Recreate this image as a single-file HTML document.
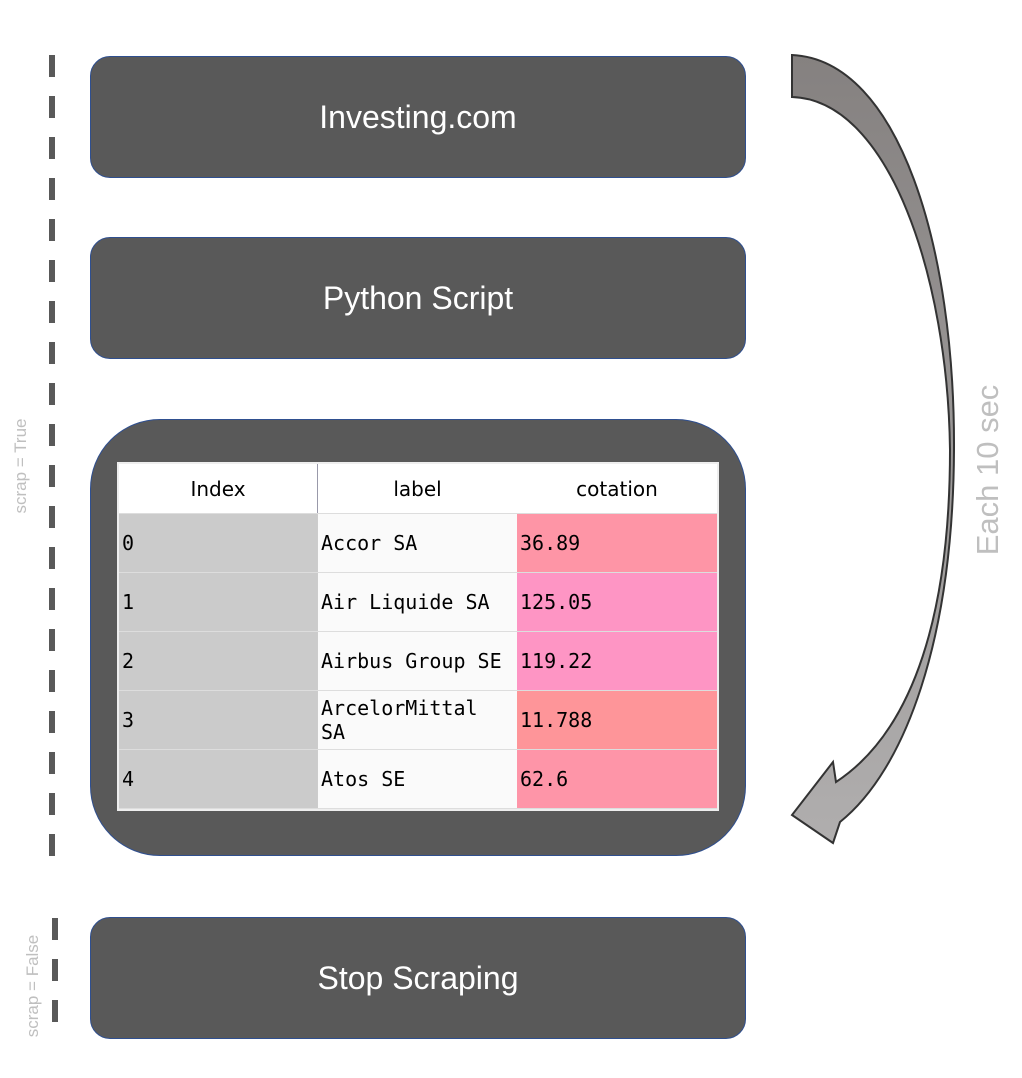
<!DOCTYPE html>
<html><head><style>
body{margin:0;width:1022px;height:1078px;background:#fff;position:relative;overflow:hidden;font-family:"Liberation Sans","DejaVu Sans",sans-serif}
.box{position:absolute;left:90px;width:654px;background:#595959;border:1px solid #2f4f8f;border-radius:20px;color:#fff;font-size:32px;display:flex;align-items:center;justify-content:center}
table{position:absolute;left:119px;top:464px;border-collapse:collapse;width:598px}
td,th{height:58px;padding:0 3px;border-bottom:1px solid #ddd;font-family:"DejaVu Sans Mono",monospace;font-size:20px;color:#000;text-align:left;line-height:24px}
th{height:49px;font-family:"DejaVu Sans",sans-serif;font-weight:normal;text-align:center;background:#fff;font-size:20px}
td.i{background:#cbcbcb;width:192px}
td.l{background:#fafafa;width:193px;border-left:1px solid #ccc}
</style></head><body>
<div class="box" style="top:56px;height:120px">Investing.com</div>
<div class="box" style="top:237px;height:120px">Python Script</div>
<div class="box" style="top:419px;height:435px;border-radius:70px"></div>
<div style="position:absolute;left:117px;top:462px;width:602px;height:349px;background:#eee"></div>
<table>
<tr><th style="border-right:1px solid #99a">Index</th><th>label</th><th>cotation</th></tr>
<tr><td class="i">0</td><td class="l">Accor SA</td><td style="background:#fe95a6">36.89</td></tr>
<tr><td class="i">1</td><td class="l">Air Liquide SA</td><td style="background:#fe95c4">125.05</td></tr>
<tr><td class="i">2</td><td class="l">Airbus Group SE</td><td style="background:#fe95c4">119.22</td></tr>
<tr><td class="i">3</td><td class="l">ArcelorMittal<br>SA</td><td style="background:#fe9599">11.788</td></tr>
<tr><td class="i">4</td><td class="l">Atos SE</td><td style="background:#fe95a8">62.6</td></tr>
</table>
<div class="box" style="top:917px;height:120px">Stop Scraping</div>
<svg width="1022" height="1078" style="position:absolute;left:0;top:0">
<defs><linearGradient id="g" x1="0" y1="0" x2="0" y2="1"><stop offset="0" stop-color="#858180"/><stop offset="1" stop-color="#b0aeae"/></linearGradient></defs>
<line x1="52" y1="55" x2="52" y2="858" stroke="#595959" stroke-width="6" stroke-dasharray="22,19"/>
<line x1="55" y1="918" x2="55" y2="1040" stroke="#595959" stroke-width="6" stroke-dasharray="22,19"/>
<path d="M792,55 C900,60 955,250 954,450 C953,640 905,770 840,822 L833,843 L792,815 L833,762 L836,782 C915,730 950,610 950,450 C948,280 890,100 792,97 Z" fill="url(#g)" stroke="#333" stroke-width="2" stroke-linejoin="miter"/>
<text transform="translate(998,470) rotate(-90)" text-anchor="middle" font-size="31" fill="#bfbfbf" font-family="Liberation Sans, sans-serif">Each 10 sec</text>
<text transform="translate(26,466) rotate(-90)" text-anchor="middle" font-size="17" fill="#bfbfbf" font-family="Liberation Sans, sans-serif">scrap = True</text>
<text transform="translate(38,986) rotate(-90)" text-anchor="middle" font-size="17" fill="#bfbfbf" font-family="Liberation Sans, sans-serif">scrap = False</text>
</svg>
</body></html>
